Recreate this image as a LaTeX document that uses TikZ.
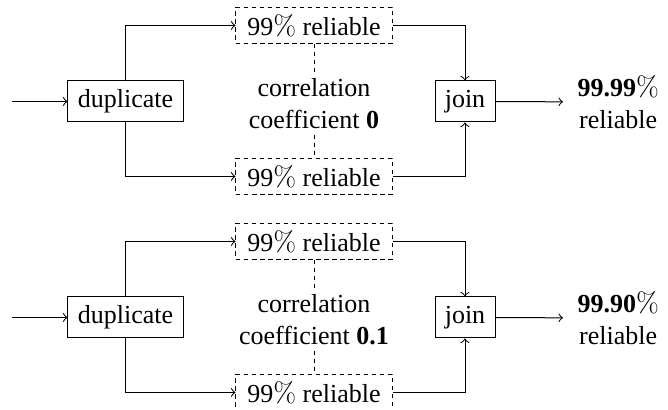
\documentclass[tikz,border=0pt]{standalone}
\usepackage{fontspec}
\setmainfont{Liberation Serif}
\newfontfamily\lmfont{Latin Modern Roman}
\newcommand{\pct}{{\lmfont\fontsize{11.2}{12.8}\selectfont\%}}
\begin{document}
\begin{tikzpicture}[x=0.4pt,y=-0.4pt,
  font=\fontsize{10.4}{12.8}\selectfont,
  blk/.style={draw, minimum height=16.4pt, inner sep=0pt},
  relbox/.style={draw, dash pattern=on 1.8pt off 1.4pt, minimum width=62.4pt, minimum height=14.4pt, inner sep=0pt},
  conn/.style={->},
  corr/.style={dash pattern=on 1.8pt off 1.4pt},
  txt/.style={align=center, inner xsep=0pt, inner ysep=2pt},
  outtxt/.style={align=center, anchor=west, inner xsep=5.6pt, inner ysep=0pt}]
\useasboundingbox (0,0) rectangle (668,410);
\clip (0,0) rectangle (668,410);
% first diagram
\coordinate (in1) at (12,101.5);
\node[blk, minimum width=46pt] (dup1) at (125.5,101.5) {duplicate};
\node[relbox] (r1a) at (314,25.5) {99\pct{} reliable};
\node[relbox] (r1b) at (314,176.5) {99\pct{} reliable};
\node[blk, minimum width=24pt] (join1) at (465,101.5) {join};
\node[txt] (c1) at (314,104) {correlation\\coefficient \textbf{0}};
\node[outtxt] (o1) at (563,102) {\textbf{99.99}\pct\\reliable};
\draw[conn] (in1) -- (dup1);
\draw[conn] (dup1.north) |- (r1a.west);
\draw[conn] (dup1.south) |- (r1b.west);
\draw[conn] (r1a.east) -| (join1.north);
\draw[conn] (r1b.east) -| (join1.south);
\draw[conn] (join1) -- (o1);
\draw[corr] (r1a.south) -- (c1.north);
\draw[corr] (c1.south) -- (r1b.north);
% second diagram
\coordinate (in2) at (12,317.5);
\node[blk, minimum width=46pt] (dup2) at (125.5,317.5) {duplicate};
\node[relbox] (r2a) at (314,241.5) {99\pct{} reliable};
\node[relbox] (r2b) at (314,392.5) {99\pct{} reliable};
\node[blk, minimum width=24pt] (join2) at (465,317.5) {join};
\node[txt] (c2) at (314,320) {correlation\\coefficient \textbf{0.1}};
\node[outtxt] (o2) at (563,318) {\textbf{99.90}\pct\\reliable};
\draw[conn] (in2) -- (dup2);
\draw[conn] (dup2.north) |- (r2a.west);
\draw[conn] (dup2.south) |- (r2b.west);
\draw[conn] (r2a.east) -| (join2.north);
\draw[conn] (r2b.east) -| (join2.south);
\draw[conn] (join2) -- (o2);
\draw[corr] (r2a.south) -- (c2.north);
\draw[corr] (c2.south) -- (r2b.north);
\end{tikzpicture}
\end{document}
